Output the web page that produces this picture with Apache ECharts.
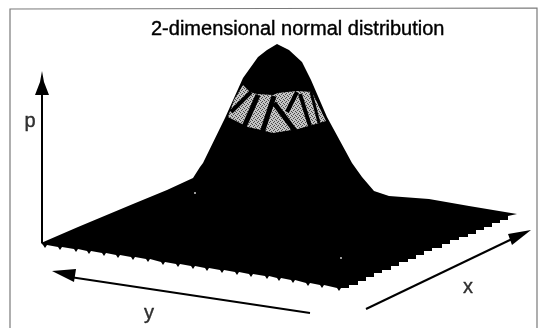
<!DOCTYPE html>
<html><head><meta charset="utf-8">
<style>html,body{margin:0;padding:0;background:#fff}#c{width:538px;height:328px}</style>
<script src="https://cdn.jsdelivr.net/npm/echarts@6/dist/echarts.min.js"></script>
</head><body><div id="c"></div>
<script>
var titleText = '2-dimensional normal distribution';
var axisNames = ['p', 'y', 'x'];
var axisNameX = [30, 149, 468];
var axisNameY = [121, 313, 287];
var frameX = [10, 10, 537, 537];
var frameY = [328, 9, 8, 328];
var surfaceX = [41,78,133,167,193,200,203,225,243,258,267,277,289,302,311,327,352,362,374,389,429,469,517,
  508,508,500,500,492,492,484,484,476,476,468,468,459,459,450,450,442,442,432,432,424,424,416,416,408,408,399,399,391,391,382,382,374,374,366,366,358,358,349,349,342,
  341,339,337,324,322,320,310,308,306,295,293,291,281,279,277,269,267,265,253,251,249,239,237,235,224,222,220,209,207,205,195,193,191,180,178,176,165,163,161,150,148,146,135,133,131,120,118,116,106,104,102,91,89,87,78,76,74,62,60,58,47,45,43];
var surfaceY = [243,227,204,190,178,167,163,118,78,57,50,44,50,62,80,117,163,177,191,196,199,206,214,
  216,220,220,223,223,227,227,230,230,234,234,237,237,240,240,244,244,248,248,251,251,255,255,259,259,262,262,266,266,270,270,273,273,277,277,281,281,285,285,288,288,
  288,291,288,285,288,285,283,286,283,280,283,280,278,281,278,276,279,276,274,277,274,272,275,272,270,273,270,268,271,268,266,269,266,264,267,264,262,265,262,259,262,259,257,260,257,255,258,255,253,256,253,251,254,251,249,252,249,247,250,247,245,248,245];
var bandX = [243,250,257,273,278,297,312,326,312,298,273,257,248,228,234];
var bandY = [85,92,94,95,93,91,92,121,125,129,133,129,127,117,100];
var stripe1X = [251,231], stripe1Y = [92,112];
var stripe2X = [258,244], stripe2Y = [95,127];
var stripe3X = [274,262], stripe3Y = [96,133];
var stripe4X = [274,295], stripe4Y = [103,131];
var stripe5X = [297,287], stripe5Y = [92,112];
var stripe6X = [300,310], stripe6Y = [94,126];
var stripe7X = [311,319], stripe7Y = [92,123];
var pAxisX = [42,42], pAxisY = [243,90];
var pHeadX = [42,44,49,35,40], pHeadY = [71,82,95,95,82];
var yAxisX = [310,70], yAxisY = [313,277];
var yHeadX = [52,76,74], yHeadY = [271,269,282];
var xAxisX = [366,512], xAxisY = [309,239];
var xHeadX = [531,508,512], xHeadY = [230,234,245];
var specksX = [341,195], specksY = [258,193];

function pairs(a, b) { return a.map(function (v, i) { return [v, b[i]]; }); }
var tex = document.createElement('canvas'); tex.width = tex.height = 4;
var tc = tex.getContext('2d');
tc.fillStyle = '#c4c4c4'; tc.fillRect(0, 0, 4, 4);
tc.fillStyle = '#4a4a4a';
[[0,0],[2,1],[1,2],[3,3]].forEach(function (p) { tc.fillRect(p[0], p[1], 1, 1); });
var stipple = { image: tex, repeat: 'repeat' };

var shapes = [
  { pts: pairs(frameX, frameY), line: '#7a7a7a', w: 1.2 },
  { pts: pairs(surfaceX, surfaceY), fill: '#000' },
  { pts: pairs(bandX, bandY), fill: stipple },
  { pts: pairs(stripe1X, stripe1Y), line: '#000', w: 4 },
  { pts: pairs(stripe2X, stripe2Y), line: '#000', w: 5 },
  { pts: pairs(stripe3X, stripe3Y), line: '#000', w: 5 },
  { pts: pairs(stripe4X, stripe4Y), line: '#000', w: 5 },
  { pts: pairs(stripe5X, stripe5Y), line: '#000', w: 4 },
  { pts: pairs(stripe6X, stripe6Y), line: '#000', w: 4 },
  { pts: pairs(stripe7X, stripe7Y), line: '#000', w: 3 },
  { pts: pairs(pAxisX, pAxisY), line: '#000', w: 2 },
  { pts: pairs(pHeadX, pHeadY), fill: '#000' },
  { pts: pairs(yAxisX, yAxisY), line: '#000', w: 2 },
  { pts: pairs(yHeadX, yHeadY), fill: '#000' },
  { pts: pairs(xAxisX, xAxisY), line: '#000', w: 2 },
  { pts: pairs(xHeadX, xHeadY), fill: '#000' }
];

var chart = echarts.init(document.getElementById('c'), null, { renderer: 'canvas' });
chart.setOption({
  animation: false,
  backgroundColor: '#fff',
  title: { text: titleText, left: 146, top: 14,
    textStyle: { fontFamily: 'Liberation Sans', fontSize: 20, fontWeight: 'normal', color: '#000', textBorderColor: '#000', textBorderWidth: 0.4 } },
  grid: { left: 0, right: 0, top: 0, bottom: 0 },
  xAxis: { type: 'value', min: 0, max: 538, show: false },
  yAxis: { type: 'value', min: 0, max: 328, inverse: true, show: false },
  series: [
    { type: 'custom', coordinateSystem: 'cartesian2d', silent: true, clip: false,
      data: shapes.map(function (s, i) { return [i]; }),
      encode: { x: 0 },
      renderItem: function (params, api) {
        var s = shapes[params.dataIndex];
        var p = s.pts.map(function (q) { return api.coord(q); });
        if (s.line) return { type: 'polyline', shape: { points: p }, style: { stroke: s.line, lineWidth: s.w, fill: null } };
        return { type: 'polygon', shape: { points: p }, style: { fill: s.fill } };
      } },
    { type: 'scatter', silent: true, symbolSize: 2, itemStyle: { color: '#fff' }, data: pairs(specksX, specksY) },
    { type: 'scatter', silent: true, symbolSize: 0, data: pairs(axisNameX, axisNameY).map(function (q, i) {
        return { value: q, name: axisNames[i] }; }),
      label: { show: true, position: 'inside', formatter: '{b}', fontFamily: 'Liberation Sans', fontSize: 20, color: '#000', textBorderColor: '#000', textBorderWidth: 0.4 } }
  ]
});
</script></body></html>
